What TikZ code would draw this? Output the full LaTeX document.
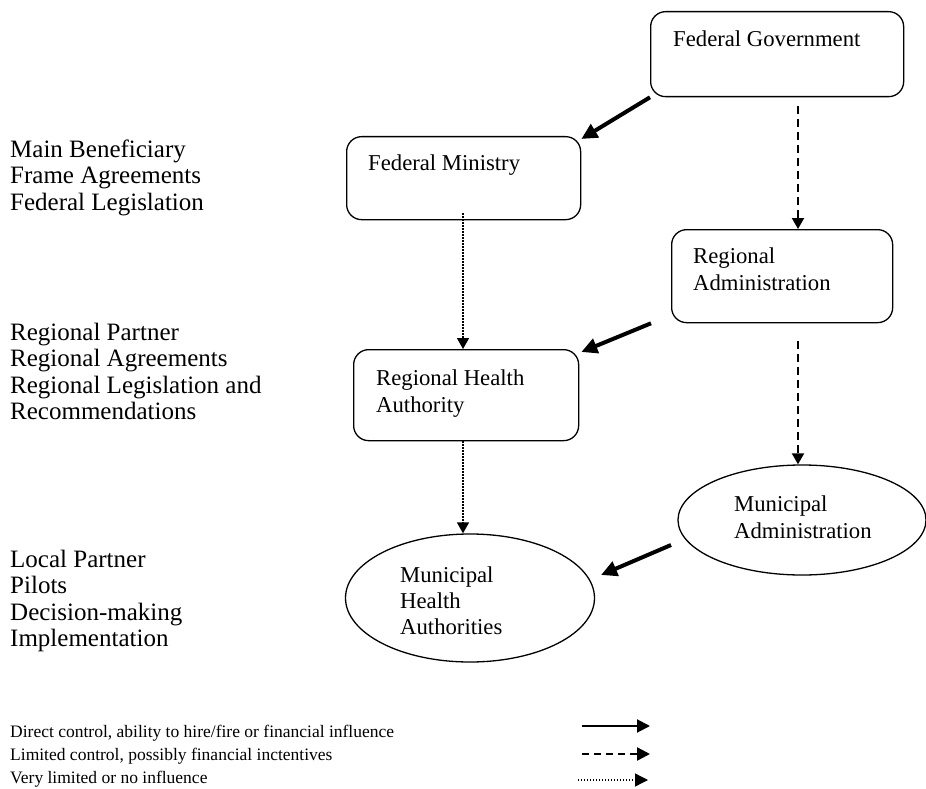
\documentclass[tikz,border=0pt]{standalone}
\usepackage{fontspec}
\setmainfont{Liberation Serif}
\usetikzlibrary{arrows.meta,shapes.geometric,calc}
\begin{document}
\begin{tikzpicture}[x=1pt,y=-1pt,
  box/.style={draw, line width=1.3pt, rounded corners=15pt, anchor=north west, inner sep=0pt},
  oval/.style={draw, ellipse, line width=1.3pt, inner sep=0pt},
  % multi-line labels are placed by the baseline of their last line
  txt/.style={anchor=base west, inner sep=0pt, align=left, font=\fontsize{22.7}{26.3}\selectfont},
  roletxt/.style={anchor=base west, inner sep=0pt, align=left, font=\fontsize{25}{26.5}\selectfont},
  keytxt/.style={anchor=base west, inner sep=0pt, align=left, font=\fontsize{17.5}{23}\selectfont},
  strong/.style={line width=4pt, -{Triangle[length=16pt,width=15pt]}},
  weak/.style={line width=2pt, dash pattern=on 8pt off 5pt, -{Triangle[length=11pt,width=12pt]}},
  faint/.style={line width=1.5pt, dash pattern=on 1.5pt off 1.5pt, -{Triangle[length=11pt,width=12pt]}},
  keystrong/.style={line width=2pt, -{Triangle[length=13pt,width=13pt]}},
  keyweak/.style={line width=2.4pt, dash pattern=on 7pt off 5pt, -{Triangle[length=13pt,width=13pt]}},
  keyfaint/.style={line width=1.3pt, dash pattern=on 1.3pt off 1.7pt, -{Triangle[length=13pt,width=13pt]}}
]
\useasboundingbox (0,0) rectangle (926,789);

% organisations
\node[box, minimum width=253pt, minimum height=85pt] (fg) at (650,11) {};
\node[box, minimum width=234pt, minimum height=83pt] (fm) at (346,136) {};
\node[box, minimum width=221pt, minimum height=93pt] (ra) at (671,229) {};
\node[box, minimum width=225pt, minimum height=91pt] (rha) at (353,349) {};
\node[oval, minimum width=248pt, minimum height=110pt] (ma) at (802,520) {};
\node[oval, minimum width=249pt, minimum height=128pt] (mha) at (470,598) {};

\node[txt] (fgt) at (673,47) {Federal Government};
\node[txt] (fmt) at (368,171) {Federal Ministry};
\node[txt] (rat) at (693,290) {Regional\\Administration};
\node[txt] (rhat) at (376,412) {Regional Health\\Authority};
\node[txt] (mat) at (734,538) {Municipal\\Administration};
\node[txt, font=\fontsize{22.7}{26}\selectfont] (mhat) at (400,634) {Municipal\\Health\\Authorities};

% roles at each level
\node[roletxt] (lvl1) at (10,210) {Main Beneficiary\\Frame Agreements\\Federal Legislation};
\node[roletxt] (lvl2) at (10,419.5) {Regional Partner\\Regional Agreements\\Regional Legislation and\\Recommendations};
\node[roletxt] (lvl3) at (10,646.5) {Local Partner\\Pilots\\Decision-making\\Implementation};

% lines of influence
\coordinate (rcol) at (798,0);
\coordinate (lcol) at (463,0);
\draw[strong] (fg.south west) -- ([yshift=-3pt]fm.north east);
\draw[weak] ([yshift=-9pt]fg.south -| rcol) -- (ra.north -| rcol);
\draw[faint] ([yshift=7pt]fm.south -| lcol) -- (rha.north -| lcol);
\draw[strong] ([xshift=-20pt]ra.south west) -- ([yshift=-3pt,xshift=2pt]rha.north east);
\draw[weak] ([yshift=-18pt]ra.south -| rcol) -- (ma.north -| rcol);
\draw[faint] (rha.south -| lcol) -- (mha.north -| lcol);
\draw[strong] ($(ma.center)+(-131,25)$) -- ($(mha.center)+(131,-23)$);

% key
\node[keytxt] (key) at (10,783) {Direct control, ability to hire/fire or financial influence\\Limited control, possibly financial inctentives\\Very limited or no influence};
\coordinate (k1a) at (582,726); \coordinate (k1b) at (650,726);
\coordinate (k2a) at (582,754); \coordinate (k2b) at (650,754);
\coordinate (k3a) at (578,780); \coordinate (k3b) at (648,780);
\draw[keystrong] (k1a) -- (k1b);
\draw[keyweak] (k2a) -- (k2b);
\draw[keyfaint] (k3a) -- (k3b);
\end{tikzpicture}
\end{document}
